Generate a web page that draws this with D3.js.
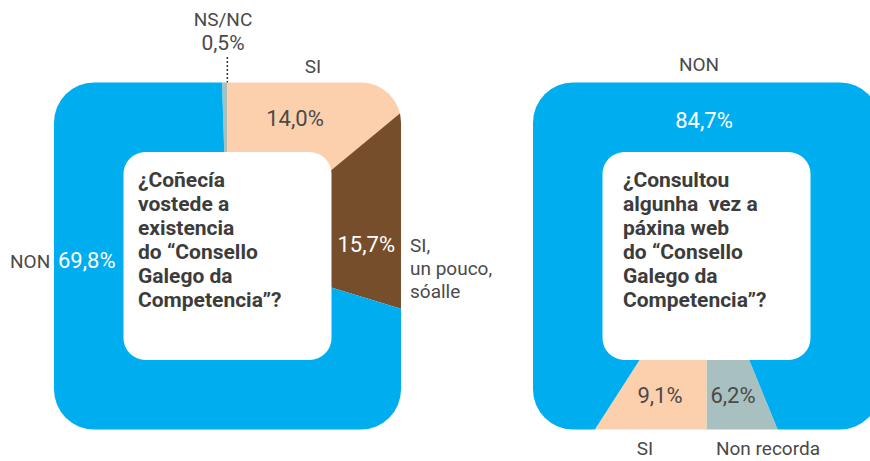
<!DOCTYPE html>
<html>
<head>
<meta charset="utf-8">
<script src="https://cdn.jsdelivr.net/npm/d3@7"></script>
<style>
  body { margin: 0; background: #fff; }
  svg { display: block; }
  text { font-family: Roboto, "DejaVu Sans", sans-serif; }
</style>
</head>
<body>
<div id="chart"></div>
<script>
// left panel: ¿Coñecía ...?
var leftCats = ["NS/NC", "SI", "SI, un pouco, sóalle", "NON"];
var leftValues = [0.5, 14.0, 15.7, 69.8];
var leftLabels = ["0,5%", "14,0%", "15,7%", "69,8%"];
var leftColors = ["#a8c1c0", "#fdd0ad", "#774e2b", "#00aeef"];
var leftQuestion = ["¿Coñecía", "vostede a", "existencia", "do “Consello", "Galego da", "Competencia”?"];

// right panel: ¿Consultou ...?
var rightCats = ["Non recorda", "SI", "NON"];
var rightValues = [6.2, 9.1, 84.7];
var rightLabels = ["6,2%", "9,1%", "84,7%"];
var rightColors = ["#a8c1c0", "#fdd0ad", "#00aeef"];
var rightQuestion = ["¿Consultou", "algunha  vez a", "páxina web", "do “Consello", "Galego da", "Competencia”?"];

var width = 870, height = 461;
var txt = "#4a4a4a";

var svg = d3.select("#chart").append("svg")
  .attr("width", width)
  .attr("height", height);

var box = 347, rx = 40, inner = 208, innerRx = 22;

function panel(id, cx, cy, values, colors, start) {
  var pie = d3.pie().sort(null).value(function (d) { return d })
    .startAngle(start).endAngle(start + 2 * Math.PI);
  var arc = d3.arc().innerRadius(0).outerRadius(box);

  svg.append("clipPath").attr("id", id)
    .append("rect")
    .attr("x", cx - box / 2).attr("y", cy - box / 2)
    .attr("width", box).attr("height", box)
    .attr("rx", rx);

  var g = svg.append("g").attr("clip-path", "url(#" + id + ")")
    .append("g").attr("transform", "translate(" + cx + "," + cy + ")");

  g.selectAll("path")
    .data(pie(values))
    .enter().append("path")
    .attr("d", arc)
    .attr("fill", function (d, i) { return colors[i] });

  svg.append("rect")
    .attr("x", cx - inner / 2).attr("y", cy - inner / 2)
    .attr("width", inner).attr("height", inner)
    .attr("rx", innerRx)
    .attr("fill", "#fff");

  return pie(values);
}

function question(lines, x, y) {
  svg.append("text")
    .attr("font-size", 21)
    .attr("font-weight", "bold")
    .attr("fill", "#3c3c3c")
    .attr("xml:space", "preserve")
    .selectAll("tspan")
    .data(lines)
    .enter().append("tspan")
    .attr("x", x)
    .attr("y", function (d, i) { return y + i * 24 })
    .text(function (d) { return d });
}

function label(s, x, y, anchor, color, size) {
  svg.append("text")
    .attr("x", x).attr("y", y)
    .attr("text-anchor", anchor || "start")
    .attr("font-size", size || 19)
    .attr("fill", color || txt)
    .text(s);
}

// left
var lcx = 227.5, lcy = 256;
var lArcs = panel("clipL", lcx, lcy, leftValues, leftColors,
  -leftValues[0] / d3.sum(leftValues) * 2 * Math.PI);
question(leftQuestion, 138, 187);

var nsAngle = (lArcs[0].startAngle + lArcs[0].endAngle) / 2;
var nsX = lcx + Math.sin(nsAngle) * 10;
svg.append("line")
  .attr("x1", nsX).attr("x2", nsX)
  .attr("y1", 57).attr("y2", lcy - box / 2)
  .attr("stroke", "#333")
  .attr("stroke-width", 1.5)
  .attr("stroke-dasharray", "2,2");

label(leftCats[0], 223, 26, "middle");
label(leftLabels[0], 223, 50, "middle", txt, 21);
label(leftCats[1], 313, 73, "middle");
label(leftLabels[1], 295, 126, "middle", txt, 22);
label(leftLabels[2], 395, 252, "end", "#fff", 22);
label("SI,", 410, 252);
label("un pouco,", 410, 275);
label("sóalle", 410, 298);
label(leftCats[3], 10, 268);
label(leftLabels[3], 58, 268, "start", "#fff", 22);

// right
var rcx = 706.5, rcy = 256;
panel("clipR", rcx, rcy, rightValues, rightColors,
  Math.PI - rightValues[0] / d3.sum(rightValues) * 2 * Math.PI);
question(rightQuestion, 623, 187);

label(rightCats[2], 699, 71, "middle");
label(rightLabels[2], 704, 128, "middle", "#fff", 22);
label(rightLabels[1], 660, 403, "middle", txt, 22);
label(rightLabels[0], 733, 403, "middle", txt, 22);
label(rightCats[1], 645, 455, "middle");
label(rightCats[0], 768, 455, "middle");
</script>
</body>
</html>
